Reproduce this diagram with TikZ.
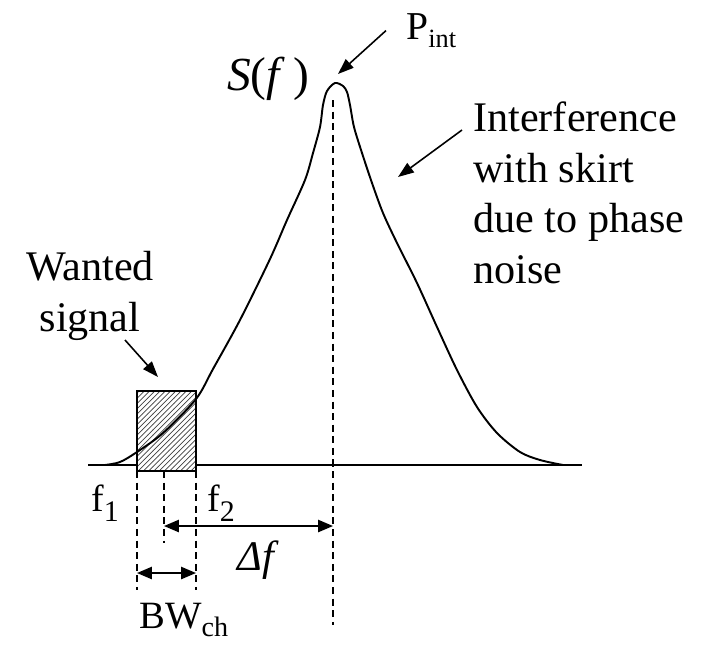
\documentclass[tikz,border=0pt]{standalone}
\usepackage{fontspec}
\setmainfont{Liberation Serif}
\usetikzlibrary{arrows.meta,positioning,calc,patterns}
\newcommand{\lowered}[3]{\raisebox{-#1}{\fontsize{#2}{#2}\selectfont #3}}
\tikzset{
  spectrum/.style={line width=1.1pt, line join=round},
  axisline/.style={line width=1pt},
  guide/.style={line width=0.85pt, dash pattern=on 4pt off 2.6pt},
  pointer/.style={-{Triangle[length=9pt, width=6.5pt]}, line width=0.9pt},
  span/.style={{Triangle[length=8.5pt, width=7pt]}-{Triangle[length=8.5pt, width=7pt]}, line width=0.9pt},
  chanbox/.style={draw, line width=0.9pt, preaction={fill=white},
    pattern=north east lines, pattern color=black!75},
  lbl/.style={inner sep=0pt, font=\fontsize{24}{29}\selectfont},
}

\begin{document}
\begin{tikzpicture}[x=0.02cm, y=-0.02cm]
    \useasboundingbox (0,0) rectangle (702,646);
    % axis and wanted channel
    \draw[axisline] (88,465) -- (582,465);
    \path[chanbox] (137,391) rectangle (196,471);
    % spectrum of the interferer
    \draw[spectrum] plot[smooth, tension=0.5] coordinates {
        (105,465) (120,462) (137,452) (163,433) (196,399) (213,369)
        (240,320) (270,259) (287,220) (305,180) (313,153) (320,127)
        (323,105) (327,91) (335,83) (343,86) (347,92) (350,105)
        (354,127) (362,153) (372,183) (383,213) (397,243) (417,283)
        (437,327) (457,370) (477,407) (497,433) (520,452) (540,460)
        (563,465)};
    % guides
    \coordinate (f1) at (137,471);
    \coordinate (fc) at (164,471);
    \coordinate (f2) at (196,471);
    \coordinate (fint) at (333,100);
    \coordinate (f1end) at (137,590);
    \coordinate (fcend) at (164,543);
    \coordinate (f2end) at (196,590);
    \coordinate (fintend) at (333,625);
    \draw[guide] (f1) -- (f1end);
    \draw[guide] (fc) -- (fcend);
    \draw[guide] (f2) -- (f2end);
    \draw[guide] (fint) -- (fintend);
    \draw[span] (fc |- 0,526) -- (fint |- 0,526);
    \draw[span] (f1 |- 0,573) -- (f2 |- 0,573);
    % labels
    \node[lbl, anchor=base, font=\fontsize{27}{30}\selectfont] (sf) at (268,90)
        {\textit{S}(\textit{f}\,)};
    \node[lbl, anchor=base west, font=\fontsize{22.5}{24}\selectfont] (pint) at (406,39)
        {P\lowered{5pt}{15}{int}};
    \node[lbl, anchor=north west, align=left] (intf) at (473,101)
        {Interference\\with skirt\\due to phase\\noise};
    \node[lbl, anchor=north, align=center] (sig) at (90,251) {Wanted\\signal};
    \node[lbl, anchor=base west, font=\fontsize{21.5}{24}\selectfont] (f1lbl) at (91,511)
        {f\lowered{6pt}{17}{1}};
    \node[lbl, anchor=base west, font=\fontsize{21.5}{24}\selectfont] (f2lbl) at (207,511)
        {f\lowered{6pt}{17}{2}};
    \node[lbl, anchor=base] (df) at (258,570) {\textit{Δf}};
    \node[lbl, anchor=base west, font=\fontsize{22}{24}\selectfont] (bw) at (139,628)
        {BW\lowered{5pt}{16}{ch}};
    % pointers
    \coordinate (peak) at (338,74);
    \coordinate (skirt) at (398,177);
    \coordinate (wanted) at (158,377);
    \draw[pointer] ($(pint.west)+(-20,0)$) -- (peak);
    \draw[pointer] ($(intf.north west)+(-11,29)$) -- (skirt);
    \draw[pointer] ($(sig.south)+(35,-1)$) -- (wanted);
\end{tikzpicture}
\end{document}
